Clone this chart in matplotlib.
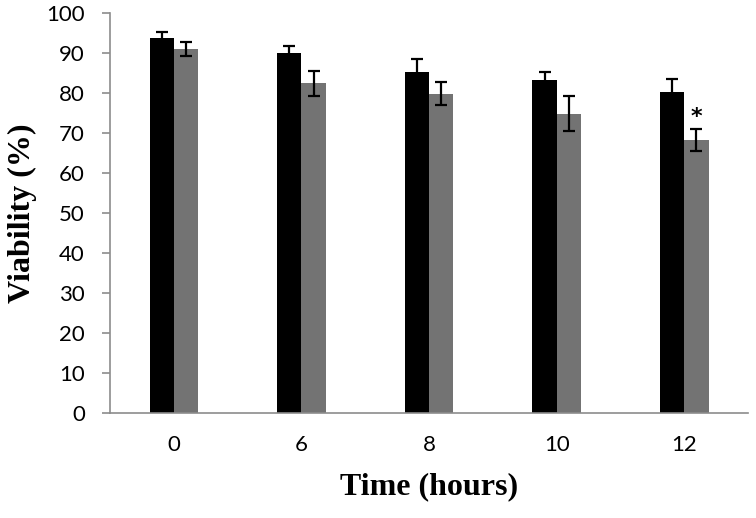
import matplotlib
matplotlib.use("Agg")
import matplotlib.pyplot as plt
import numpy as np

times = ["0", "6", "8", "10", "12"]
control = [93.8, 89.9, 85.3, 83.3, 80.3]
control_err = [1.6, 1.9, 3.2, 2.0, 3.3]
treated = [91.0, 82.4, 79.8, 74.8, 68.2]
treated_err = [1.8, 3.2, 2.9, 4.4, 2.8]

fig = plt.figure(figsize=(7.56, 5.18), dpi=100)
ax = fig.add_axes([0.1455, 0.2027, 0.844, 0.772])

x = np.arange(len(times))
w = 0.19
ekw = dict(ecolor="black", elinewidth=1.6, capsize=4.5, capthick=1.6)
ax.bar(x - w / 2, control, w, color="black", yerr=control_err, error_kw=ekw)
ax.bar(x + w / 2, treated, w, color="#737373", yerr=treated_err, error_kw=ekw)

# significance marker
ax.text(x[-1] + w / 2, treated[-1] + treated_err[-1] + 0.6, "*",
        ha="center", va="bottom", fontsize=16, fontweight="bold")

ax.set_xlim(-0.5, 4.5)
ax.set_ylim(0, 100)
ax.set_yticks(range(0, 101, 10))
ax.set_xticks(x)
ax.set_xticklabels(times)

for s in ["top", "right"]:
    ax.spines[s].set_visible(False)
for s in ["left", "bottom"]:
    ax.spines[s].set_color("#8c8c8c")
    ax.spines[s].set_linewidth(1.2)

ax.tick_params(axis="y", color="#8c8c8c", length=6, width=1.2, pad=12,
               labelsize=16)
ax.tick_params(axis="x", length=0, pad=16, labelsize=16)
for lab in ax.get_xticklabels() + ax.get_yticklabels():
    lab.set_family("Lato")

ax.set_xlabel("Time (hours)", family="Liberation Serif", fontweight="bold",
              fontsize=23, labelpad=12)
ax.set_ylabel("Viability (%)", family="Liberation Serif", fontweight="bold",
              fontsize=23, labelpad=7)

fig.savefig("out.png", dpi=100)
